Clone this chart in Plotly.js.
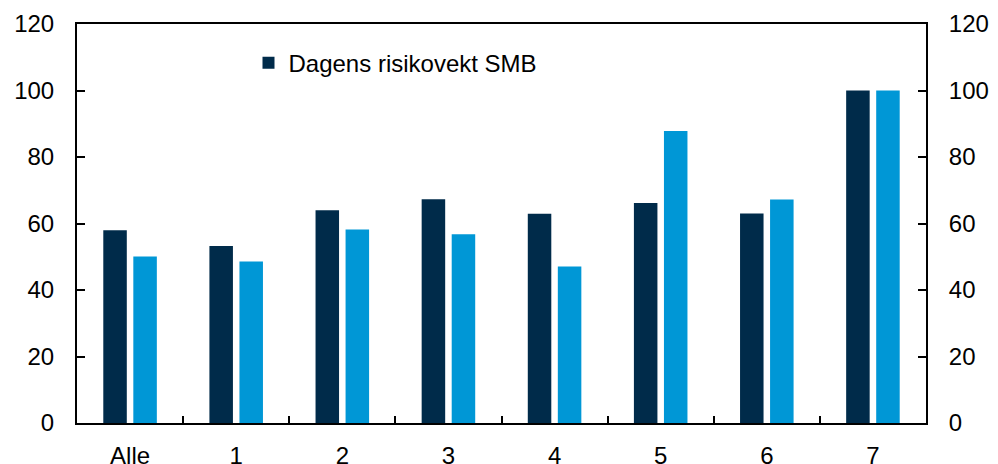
<!DOCTYPE html>
<html>
<head>
<meta charset="utf-8">
<script src="https://cdn.plot.ly/plotly-3.0.1.min.js"></script>
<style>html,body{margin:0;padding:0;background:#fff;}#chart{width:998px;height:464px;}</style>
</head>
<body>
<div id="chart"></div>
<script>
const categories = ["Alle", "1", "2", "3", "4", "5", "6", "7"];
const dagensRisikovekt = [58, 53.2, 64, 67.3, 62.9, 66.2, 63, 100];
const nyRisikovekt = [50.1, 48.6, 58.2, 56.8, 47.1, 87.8, 67.2, 100];
const yTicks = [0, 20, 40, 60, 80, 100, 120];

const FONT = {family: "Liberation Sans, Arial, sans-serif", size: 24, color: "#000"};

const traces = [
  {type: "bar", x: categories, y: dagensRisikovekt, name: "Dagens risikovekt SMB",
   marker: {color: "#002b4a"}, showlegend: true},
  {type: "bar", x: categories, y: nyRisikovekt, name: "Ny risikovekt SMB",
   marker: {color: "#0097d6"}, showlegend: false},
  {type: "scatter", x: categories, y: categories.map(() => null), yaxis: "y2",
   showlegend: false, hoverinfo: "skip"}
];

const yCommon = {
  range: [0, 120], tickvals: yTicks, ticktext: yTicks.map(String),
  ticks: "inside", ticklen: 8, tickwidth: 2, tickcolor: "#000",
  showline: true, linecolor: "#000", linewidth: 2,
  showgrid: false, zeroline: false, tickfont: FONT, fixedrange: true
};

const layout = {
  width: 998, height: 464,
  margin: {l: 77, r: 72, t: 24, b: 41, pad: 0},
  paper_bgcolor: "#fff", plot_bgcolor: "#fff",
  font: FONT,
  barmode: "group", bargap: 0.434, bargroupgap: 0.217,
  showlegend: true,
  legend: {x: 0.202, xanchor: "left", y: 0.902, yanchor: "middle",
           font: FONT, bgcolor: "rgba(0,0,0,0)", borderwidth: 0},
  xaxis: {
    type: "category", tickson: "boundaries", ticks: "inside", ticklen: 7,
    tickwidth: 2, tickcolor: "#000", showline: true, mirror: true,
    linecolor: "#000", linewidth: 2, showgrid: false, tickfont: FONT,
    ticklabelstandoff: 10
  },
  yaxis: Object.assign({}, yCommon, {side: "left", ticklabelstandoff: 16}),
  yaxis2: Object.assign({}, yCommon, {side: "right", overlaying: "y", ticklabelstandoff: 16})
};

Plotly.newPlot("chart", traces, layout, {displayModeBar: false, staticPlot: true});
</script>
</body>
</html>
